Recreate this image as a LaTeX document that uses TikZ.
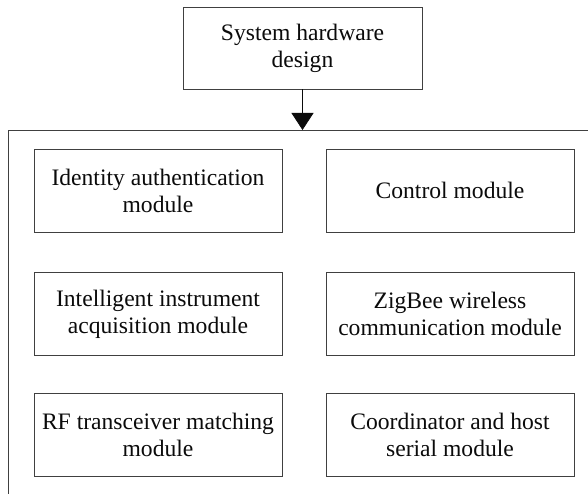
\documentclass[tikz,border=0pt]{standalone}
\usepackage{fontspec}
\setmainfont{Liberation Serif}
\usetikzlibrary{arrows.meta,positioning}
\definecolor{ink}{HTML}{0B0B0B}
\definecolor{ink2}{HTML}{404040}
\tikzset{
  every picture/.style={line join=miter},
  box/.style={draw=ink2, fill=white, align=center, text=ink, line width=0.8pt,
    font=\fontsize{23.6}{27}\selectfont, inner sep=2pt},
  modbox/.style={box, minimum width=248pt, minimum height=83pt},
  topbox/.style={box, minimum width=239pt, minimum height=82pt},
  arr/.style={-{Triangle[length=17pt,width=22pt]}, draw=ink, line width=0.8pt},
  rail/.style={draw=ink2, line width=0.8pt},
}
\begin{document}
\begin{tikzpicture}[x=1pt, y=-1pt]
  \useasboundingbox (0,0) rectangle (588,494);
  % ---------------- top ----------------
  \node[topbox] (sys) at (302.5,48) {System hardware\\design};
  \coordinate (hub) at (302.5,130);
  \coordinate (railR) at (588,130);
  \coordinate (railL) at (8,130);
  \coordinate (railB) at (8,494);
  \draw[rail] (railR) -- (railL) -- (railB);
  \draw[arr] (sys) -- (hub);

  % ---------------- modules ----------------
  \node[modbox] (ida) at (158,190.5) {Identity authentication\\module};
  \node[modbox] (ctl) at (450,190.5) {Control module};
  \node[modbox] (iia) at (158,314) {Intelligent instrument\\acquisition module};
  \node[modbox] (zig) at (450,314) {ZigBee wireless\\communication module};
  \node[modbox] (rft) at (158,435) {RF transceiver matching\\module};
  \node[modbox] (crd) at (450,435) {Coordinator and host\\serial module};
\end{tikzpicture}
\end{document}
